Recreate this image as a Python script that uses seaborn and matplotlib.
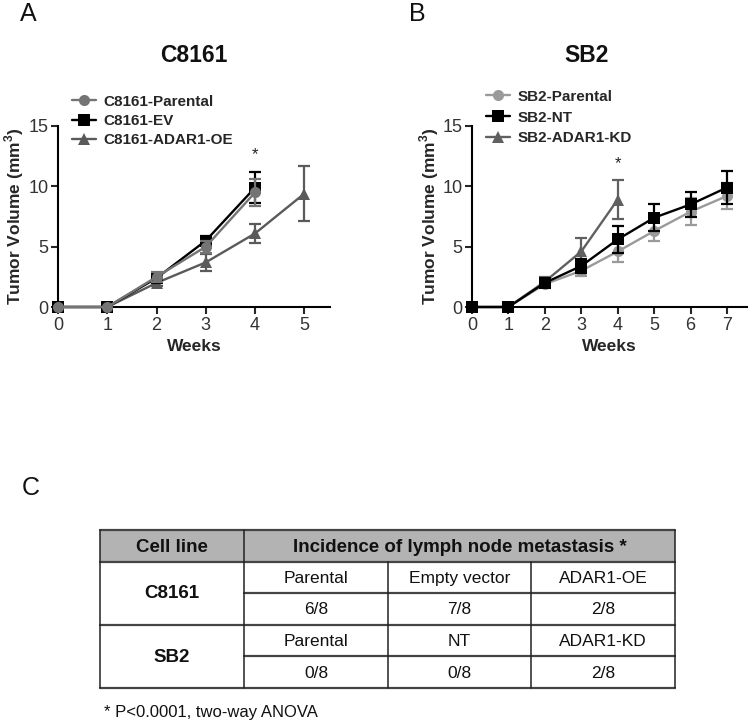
import numpy as np
import pandas as pd
import seaborn as sns
import matplotlib
matplotlib.use('Agg')
import matplotlib.pyplot as plt
from matplotlib.patches import Rectangle

# --- Panel A: C8161 tumor growth (mean, sem)
a_labels = ['C8161-Parental', 'C8161-EV', 'C8161-ADAR1-OE']
a_weeks = [[0, 1, 2, 3, 4], [0, 1, 2, 3, 4], [0, 1, 2, 3, 4, 5]]
a_mean = [[0, 0, 2.5, 5.0, 9.5], [0, 0, 2.4, 5.5, 9.9], [0, 0, 2.0, 3.7, 6.1, 9.4]]
a_sem = [[0, 0, 0.4, 0.5, 1.1], [0, 0, 0.4, 0.4, 1.3], [0, 0, 0.3, 0.7, 0.8, 2.3]]

# --- Panel B: SB2 tumor growth
b_labels = ['SB2-Parental', 'SB2-NT', 'SB2-ADAR1-KD']
b_weeks = [[0, 1, 2, 3, 4, 5, 6, 7], [0, 1, 2, 3, 4, 5, 6, 7], [0, 1, 2, 3, 4]]
b_mean = [[0, 0, 1.9, 3.0, 4.6, 6.3, 7.9, 9.2], [0, 0, 2.0, 3.4, 5.6, 7.4, 8.5, 9.9], [0, 0, 2.1, 4.6, 8.9]]
b_sem = [[0, 0, 0.3, 0.4, 0.9, 0.8, 1.1, 1.1], [0, 0, 0.3, 0.6, 1.1, 1.1, 1.0, 1.4], [0, 0, 0.4, 1.1, 1.6]]

# --- Panel C: table
tbl_header = ['Cell line', 'Incidence of lymph node metastasis *']
cell_lines = ['C8161', 'SB2']
tbl_groups = [['Parental', 'Empty vector', 'ADAR1-OE'], ['Parental', 'NT', 'ADAR1-KD']]
tbl_counts = [['6/8', '7/8', '2/8'], ['0/8', '0/8', '2/8']]
footnote = '* P<0.0001, two-way ANOVA'

sns.set_style('ticks')
plt.rcParams['font.family'] = ['Liberation Sans', 'DejaVu Sans']
plt.rcParams['mathtext.fontset'] = 'custom'
plt.rcParams['mathtext.bf'] = 'Liberation Sans:bold'
plt.rcParams['mathtext.rm'] = 'Liberation Sans'

W, H = 750, 726
fig = plt.figure(figsize=(7.5, 7.26), dpi=100)


def px_axes(x0, x1, y_top, y_bot):
    return fig.add_axes([x0 / W, 1 - y_bot / H, (x1 - x0) / W, (y_bot - y_top) / H])


def growth_panel(ax, labels, weeks, mean, sem, colors, markers, zorders, xmax, star_y):
    for lab, wk, m, s, c, mk, z in zip(labels, weeks, mean, sem, colors, markers, zorders):
        sns.lineplot(x=wk, y=m, ax=ax, color=c, marker=mk, markersize=8 if mk != '^' else 9,
                     markeredgewidth=0, linewidth=1.7, label=lab, zorder=z, clip_on=False)
        s = np.array(s)
        keep = s > 0
        ax.errorbar(np.array(wk)[keep], np.array(m)[keep], yerr=s[keep], fmt='none', ecolor=c,
                    elinewidth=1.6, capsize=4.5, capthick=1.6, zorder=z - 0.5, clip_on=False)
    ax.set_xlim(0, xmax)
    ax.set_ylim(0, 15)
    ax.set_xticks(range(int(xmax) + 1))
    ax.set_yticks([0, 5, 10, 15])
    sns.despine(ax=ax)
    for sp in ['left', 'bottom']:
        ax.spines[sp].set_linewidth(1.5)
        ax.spines[sp].set_color('black')
    ax.tick_params(axis='both', length=5, width=1.5, labelsize=13, labelcolor='#333333', pad=2)
    ax.set_xlabel('Weeks', fontsize=12.5, fontweight='bold')
    ax.set_ylabel(r'Tumor Volume (mm$^{\mathbf{3}}$)', fontsize=12.5, fontweight='bold')
    ax.text(4, star_y, '*', ha='center', va='center', fontsize=12, color='#222222')
    ax.get_legend().remove()
    ax.grid(False)


# Panel A
axA = px_axes(58, 330, 126, 307)
growth_panel(axA, a_labels, a_weeks, a_mean, a_sem,
             ['#747474', '#000000', '#5a5a5a'], ['o', 's', '^'], [5, 4, 3], 5.52, 12.6)
axA.xaxis.set_label_coords(0.5, -0.175)
axA.yaxis.set_label_coords(-0.118, 0.5)
hA, lA = axA.get_legend_handles_labels()
fig.legend(hA[:3], lA[:3], loc='upper left', bbox_to_anchor=(64 / W, 1 - 87 / H), frameon=False,
           borderpad=0, handlelength=1.6, handletextpad=0.5, labelspacing=0.35,
           prop={'weight': 'bold', 'size': 11})

# Panel B
axB = px_axes(472, 747, 126, 307)
growth_panel(axB, b_labels, b_weeks, b_mean, b_sem,
             ['#9a9a9a', '#000000', '#606060'], ['o', 's', '^'], [4, 5, 3], 7.55, 11.9)
axB.xaxis.set_label_coords(0.5, -0.175)
axB.yaxis.set_label_coords(-0.112, 0.5)
hB, lB = axB.get_legend_handles_labels()
fig.legend(hB[:3], lB[:3], loc='upper left', bbox_to_anchor=(478 / W, 1 - 82 / H), frameon=False,
           borderpad=0, handlelength=1.6, handletextpad=0.5, labelspacing=0.45,
           prop={'weight': 'bold', 'size': 11})

# Overlay axes in pixel coordinates for letters, titles and the table
ov = fig.add_axes([0, 0, 1, 1], zorder=-1)
ov.set_xlim(0, W)
ov.set_ylim(H, 0)
ov.axis('off')

for letter, (lx, ly) in zip(['A', 'B', 'C'], [(20, 14), (409, 14), (22, 488)]):
    ov.text(lx, ly, letter, fontsize=18, ha='left', va='center', color='#111111')
for title, (tx, ty) in zip(['C8161', 'SB2'], [(194, 56), (587, 56)]):
    ov.text(tx, ty, title, fontsize=16.5, fontweight='bold', ha='center', va='center', color='#111111')

# table geometry
col_x = [100, 244, 388, 531, 675]
row_y = [530, 562, 593, 625, 656, 688]

ov.add_patch(Rectangle((col_x[0], row_y[0]), col_x[-1] - col_x[0], row_y[1] - row_y[0],
                       facecolor='#b3b3b3', edgecolor='none'))
# horizontal lines
for y in [row_y[0], row_y[1], row_y[3], row_y[5]]:
    ov.plot([col_x[0], col_x[-1]], [y, y], color='#444444', lw=1.6)
for y in [row_y[2], row_y[4]]:
    ov.plot([col_x[1], col_x[-1]], [y, y], color='#444444', lw=1.6)
# vertical lines
ov.plot([col_x[0], col_x[0]], [row_y[0], row_y[5]], color='#222222', lw=1.1)
ov.plot([col_x[-1], col_x[-1]], [row_y[0], row_y[5]], color='#222222', lw=1.1)
ov.plot([col_x[1], col_x[1]], [row_y[0], row_y[5]], color='#222222', lw=1.1)
for x in col_x[2:4]:
    ov.plot([x, x], [row_y[1], row_y[5]], color='#222222', lw=1.1)

ov.text((col_x[0] + col_x[1]) / 2, (row_y[0] + row_y[1]) / 2 + 1, tbl_header[0], ha='center', va='center',
        fontsize=13.5, fontweight='bold', color='#111111')
ov.text((col_x[1] + col_x[-1]) / 2, (row_y[0] + row_y[1]) / 2 + 1, tbl_header[1], ha='center', va='center',
        fontsize=13.5, fontweight='bold', color='#111111')
for i, name in enumerate(cell_lines):
    r0 = 1 + 2 * i
    ov.text((col_x[0] + col_x[1]) / 2, row_y[r0 + 1] + 1, name, ha='center', va='center',
            fontsize=13.5, fontweight='bold', color='#111111')
    for j in range(3):
        cx = (col_x[j + 1] + col_x[j + 2]) / 2
        ov.text(cx, (row_y[r0] + row_y[r0 + 1]) / 2 + 1, tbl_groups[i][j], ha='center', va='center',
                fontsize=12.5, color='#111111')
        ov.text(cx, (row_y[r0 + 1] + row_y[r0 + 2]) / 2 + 1, tbl_counts[i][j], ha='center', va='center',
                fontsize=12.5, color='#111111')

ov.text(104, 713, footnote, ha='left', va='center', fontsize=12, color='#111111')

fig.savefig('out.png', dpi=100, facecolor='white')
